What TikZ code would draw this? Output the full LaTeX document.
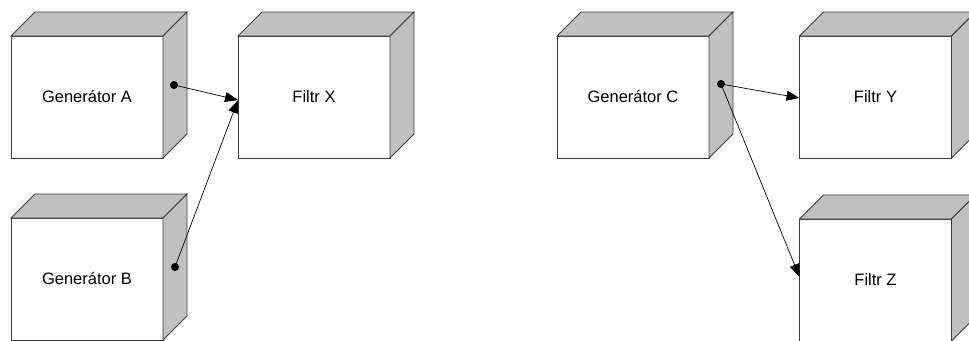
\documentclass[tikz,border=0pt]{standalone}
\usepackage{fontspec}
\setmainfont{Liberation Sans}
\usetikzlibrary{arrows.meta}
\definecolor{boxgray}{RGB}{192,192,192}
\definecolor{edgegray}{RGB}{60,60,60}
% a solid block: white front face carrying the label, grey top and right side
\newcommand\solidblock[4]{%
  \node[front] (#1) at (#2,#3) {#4};
  \draw[shadeface] (#1.north west) -- ++(24,-24) -- ++(152,0) -- (#1.north east) -- cycle;
  \draw[shadeface] (#1.north east) -- ++(24,-24) -- ++(0,122) -- (#1.south east) -- cycle;
}
\begin{document}
\begin{tikzpicture}[x=1pt,y=-1pt,
  face/.style={draw=edgegray, line width=0.8pt, line join=miter},
  front/.style={face, fill=white, minimum width=152pt, minimum height=122pt,
    inner sep=0pt, outer sep=0pt, font=\fontsize{16.5}{19}\selectfont},
  shadeface/.style={face, fill=boxgray},
  dot/.style={circle, fill=black, inner sep=0pt, minimum size=8pt},
  link/.style={draw=black, line width=0.7pt, -{Triangle[length=13pt,width=10pt]}}
]
\useasboundingbox (0,0) rectangle (969,340);

\solidblock{genA}{87}{97}{Generátor A}
\solidblock{genB}{87}{279}{Generátor B}
\solidblock{filX}{314}{97}{Filtr X}
\solidblock{genC}{633}{97}{Generátor C}
\solidblock{filY}{875.5}{97}{Filtr Y}
\solidblock{filZ}{875.5}{280}{Filtr Z}

% output ports on the generators' side faces
\node[dot] (portA) at (174,85) {};
\node[dot] (portB) at (175,267) {};
\node[dot] (portC) at (721,84) {};

\draw[link] (portA.center) -- ([yshift=-3pt]filX.west);
\draw[link] (portB.center) -- ([yshift=-3pt]filX.west);
\draw[link] (portC.center) -- ([yshift=-1pt]filY.west);
\draw[link] (portC.center) -- ([yshift=3pt]filZ.west);
\end{tikzpicture}
\end{document}
